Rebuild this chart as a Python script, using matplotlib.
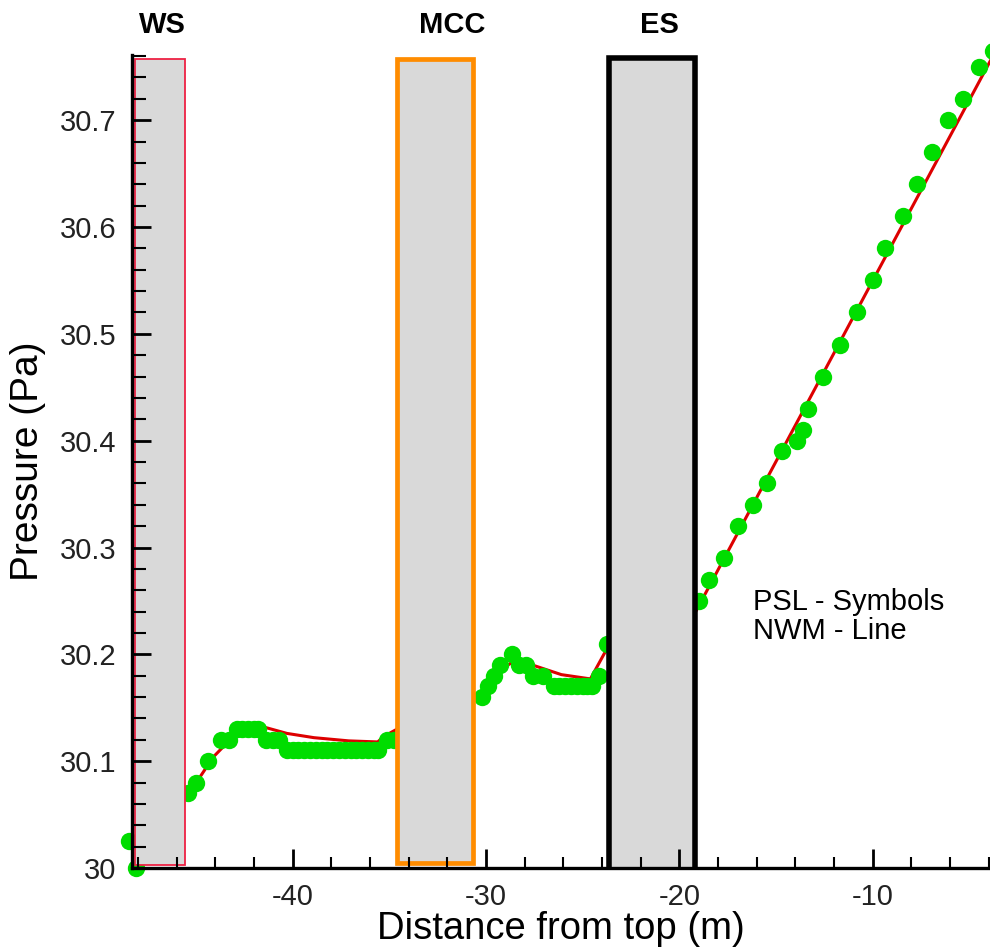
import matplotlib
matplotlib.use("Agg")
import matplotlib.pyplot as plt
from matplotlib.patches import Rectangle
from matplotlib.ticker import MultipleLocator, FixedLocator, FixedFormatter

plt.rcParams['font.family'] = ['Liberation Sans', 'DejaVu Sans']

# ---- data ----
# PSL measurements (symbols)
psl_x = [-48.45, -48.1, -45.4, -45.0, -44.4, -43.7, -43.3, -42.9, -42.6, -42.3, -42.0, -41.8,
         -41.4, -41.0, -40.7,
         -40.3, -40.0, -39.7, -39.4, -39.1, -38.8, -38.5, -38.2, -37.9, -37.6, -37.3,
         -37.0, -36.7, -36.4, -36.1, -35.8, -35.6, -35.1, -34.75,
         -30.2, -29.9, -29.6, -29.25, -28.65, -28.3, -27.95, -27.55, -27.05, -26.5,
         -26.2, -25.9, -25.6, -25.3, -25.0, -24.75, -24.5, -24.15, -23.75,
         -19.0, -18.45, -17.67, -16.96, -16.18, -15.46, -14.68, -13.9, -13.6, -13.33,
         -12.57, -11.67, -10.8, -10.0, -9.36, -8.42, -7.7, -6.92, -6.1, -5.32, -4.49, -3.75]
psl_y = [30.025, 30.0, 30.07, 30.08, 30.10, 30.12, 30.12, 30.13, 30.13, 30.13, 30.13, 30.13,
         30.12, 30.12, 30.12,
         30.11, 30.11, 30.11, 30.11, 30.11, 30.11, 30.11, 30.11, 30.11, 30.11, 30.11,
         30.11, 30.11, 30.11, 30.11, 30.11, 30.11, 30.12, 30.12,
         30.16, 30.17, 30.18, 30.19, 30.20, 30.19, 30.19, 30.18, 30.18, 30.17,
         30.17, 30.17, 30.17, 30.17, 30.17, 30.17, 30.17, 30.18, 30.21,
         30.25, 30.27, 30.29, 30.32, 30.34, 30.36, 30.39, 30.40, 30.41, 30.43,
         30.46, 30.49, 30.52, 30.55, 30.58, 30.61, 30.64, 30.67, 30.70, 30.72, 30.75, 30.765]

# NWM model (line)
nwm_x = [-48.2, -45.6, -44.8, -44.1, -43.4, -42.5, -41.7, -40.3, -38.9, -37.1, -35.6,
         -35.3, -34.6, -30.7, -30.0, -29.3, -28.6, -27.6, -26.1, -24.6, -23.6,
         -19.3, -3.9]
nwm_y = [30.0, 30.064, 30.085, 30.104, 30.117, 30.128, 30.133, 30.126, 30.122, 30.119, 30.118,
         30.123, 30.13, 30.155, 30.17, 30.185, 30.193, 30.19, 30.181, 30.177, 30.21,
         30.235, 30.756]

# Stations (shaded bands)
station_names = ['WS', 'MCC', 'ES']
station_start = [-48.15, -34.6, -23.64]
station_end = [-45.57, -30.67, -19.19]
station_bottom = [30.003, 30.005, 29.98]
station_top = [30.757, 30.757, 30.758]
station_label_x = [-46.75, -31.75, -21.05]
station_edge = ['#ee2244', '#ff8c00', '#000000']
station_lw = [1.3, 3.4, 4.0]

y_ticks = [30.0, 30.1, 30.2, 30.3, 30.4, 30.5, 30.6, 30.7]
y_ticklabels = ['30', '30.1', '30.2', '30.3', '30.4', '30.5', '30.6', '30.7']
x_ticks = [-40, -30, -20, -10]
x_ticklabels = ['-40', '-30', '-20', '-10']

# ---- figure ----
fig = plt.figure(figsize=(9.9, 9.47), dpi=100)
ax = fig.add_axes([132 / 990, 1 - 868 / 947, 858 / 990, 813 / 947])

ax.plot(nwm_x, nwm_y, color='#dd0000', lw=2.2, zorder=2)
ax.plot(psl_x, psl_y, linestyle='none', marker='o', ms=12.5, color='#00dd00',
        markeredgewidth=0, zorder=3, clip_on=False)

for name, x0, x1, y0, y1, lx, ec, lw in zip(station_names, station_start, station_end,
                                           station_bottom, station_top, station_label_x,
                                           station_edge, station_lw):
    ax.add_patch(Rectangle((x0, y0), x1 - x0, y1 - y0, facecolor='#d9d9d9',
                           edgecolor=ec, linewidth=lw, zorder=4))
    ax.annotate(name, xy=(lx, 1.037), xycoords=('data', 'axes fraction'),
                ha='center', va='center', fontsize=21, fontweight='bold', color='black',
                annotation_clip=False)

ax.set_xlim(-48.31, -3.93)
ax.set_ylim(30.0, 30.761)

for s in ['top', 'right']:
    ax.spines[s].set_visible(False)
for s in ['left', 'bottom']:
    ax.spines[s].set_linewidth(2.4)
    ax.spines[s].set_zorder(10)

ax.xaxis.set_major_locator(FixedLocator(x_ticks))
ax.xaxis.set_major_formatter(FixedFormatter(x_ticklabels))
ax.xaxis.set_minor_locator(MultipleLocator(2))
ax.yaxis.set_major_locator(FixedLocator(y_ticks))
ax.yaxis.set_major_formatter(FixedFormatter(y_ticklabels))
ax.yaxis.set_minor_locator(MultipleLocator(0.02))

ax.tick_params(which='both', direction='in', color='black')
ax.tick_params(which='major', length=14, width=2.0, labelsize=21, pad=11, labelcolor='#222222')
ax.tick_params(which='minor', length=8, width=1.5)
ax.tick_params(axis='y', which='minor', length=10)
ax.xaxis.set_zorder(10)
ax.yaxis.set_zorder(10)

ax.set_xlabel('Distance from top (m)', fontsize=27.5)
ax.xaxis.set_label_coords(0.5, -0.0745)
ax.xaxis.label.set_va('center')
ax.set_ylabel('Pressure (Pa)', fontsize=28, labelpad=10)

ax.text(-16.19, 30.2413, 'PSL - Symbols', fontsize=21, va='baseline', ha='left')
ax.text(-16.19, 30.2142, 'NWM - Line', fontsize=21, va='baseline', ha='left')

fig.savefig('out.png', dpi=100)
